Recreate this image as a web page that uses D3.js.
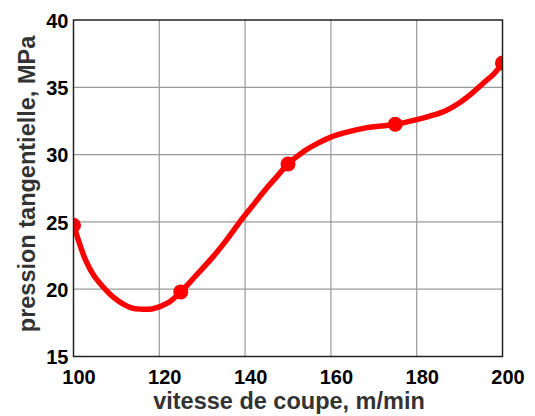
<!DOCTYPE html>
<html>
<head>
<meta charset="utf-8">
<script src="https://cdn.jsdelivr.net/npm/d3@7"></script>
<style>
  html, body { margin: 0; padding: 0; background: #fff; }
  svg { display: block; }
</style>
</head>
<body>
<svg id="chart" width="535" height="416"></svg>
<script>
// Measured points (markers)
const speeds = [100, 125, 150, 175, 200];
const pressures = [24.75, 19.8, 29.3, 32.25, 36.8];

// Fitted curve
const curveX = [100, 101.6, 102.8, 104.7, 107.8, 109.5, 111.7, 113.5, 115.5, 118.5, 122, 125, 128.5, 132.5, 136, 139, 142, 145, 147.5, 150, 153.5, 157, 160, 163.5, 167.5, 171, 175, 180, 184, 187, 190, 192.5, 195.5, 198, 200];
const curveY = [24.8, 23.2, 22.18, 21.04, 19.86, 19.35, 18.87, 18.62, 18.52, 18.55, 18.98, 19.8, 21.0, 22.4, 23.8, 25.1, 26.3, 27.5, 28.4, 29.3, 30.2, 30.85, 31.3, 31.65, 31.95, 32.1, 32.25, 32.6, 32.95, 33.3, 33.85, 34.45, 35.3, 36.0, 36.8];

const xTicks = [100, 120, 140, 160, 180, 200];
const yTicks = [15, 20, 25, 30, 35, 40];
const xTitle = "vitesse de coupe, m/min";
const yTitle = "pression tangentielle, MPa";

const svg = d3.select("#chart");
const m = { left: 73.5, top: 20, right: 502.5, bottom: 356.5 };
const x = d3.scaleLinear().domain([100, 200]).range([m.left, m.right]);
const y = d3.scaleLinear().domain([15, 40]).range([m.bottom, m.top]);

// grid
const grid = svg.append("g");
grid.selectAll(".vg").data(xTicks.slice(1, -1)).enter().append("line")
  .attr("x1", d => x(d)).attr("x2", d => x(d))
  .attr("y1", m.top).attr("y2", m.bottom)
  .attr("stroke", "#9a9a9a").attr("stroke-width", 1.2);
grid.selectAll(".hg").data(yTicks.slice(1, -1)).enter().append("line")
  .attr("x1", m.left).attr("x2", m.right)
  .attr("y1", d => y(d)).attr("y2", d => y(d))
  .attr("stroke", "#9a9a9a").attr("stroke-width", 1.2);

// clip
svg.append("clipPath").attr("id", "clip").append("rect")
  .attr("x", m.left).attr("y", m.top)
  .attr("width", m.right - m.left).attr("height", m.bottom - m.top);

const plot = svg.append("g").attr("clip-path", "url(#clip)");
const line = d3.line().x(d => x(d[0])).y(d => y(d[1])).curve(d3.curveCatmullRom.alpha(0.5));
plot.append("path")
  .datum(curveX.map((v, i) => [v, curveY[i]]))
  .attr("d", line)
  .attr("fill", "none").attr("stroke", "#ff0000").attr("stroke-width", 5.5)
  .attr("stroke-linejoin", "round").attr("stroke-linecap", "round");
plot.selectAll("circle").data(speeds.map((v, i) => [v, pressures[i]])).enter().append("circle")
  .attr("cx", d => x(d[0])).attr("cy", d => y(d[1])).attr("r", 7.5)
  .attr("fill", "#ff0000");

// frame
svg.append("rect")
  .attr("x", m.left).attr("y", m.top)
  .attr("width", m.right - m.left).attr("height", m.bottom - m.top)
  .attr("fill", "none").attr("stroke", "#222").attr("stroke-width", 1.5);

// axes
const xAxis = d3.axisBottom(x).tickValues(xTicks).tickSize(0).tickPadding(0).tickFormat(d3.format("d"));
const gx = svg.append("g").attr("transform", `translate(5,${m.bottom})`).call(xAxis);
gx.select(".domain").remove();
gx.selectAll("text").attr("y", 27).attr("dy", 0)
  .attr("font-family", "Liberation Sans, Arial, sans-serif").attr("font-weight", "bold")
  .attr("font-size", 20).attr("fill", "#000");

const yAxis = d3.axisLeft(y).tickValues(yTicks).tickSize(0).tickPadding(0).tickFormat(d3.format("d"));
const gy = svg.append("g").attr("transform", `translate(${m.left - 5},0)`).call(yAxis);
gy.select(".domain").remove();
gy.selectAll("text").attr("dy", "0.36em")
  .attr("font-family", "Liberation Sans, Arial, sans-serif").attr("font-weight", "bold")
  .attr("font-size", 20).attr("fill", "#000");

svg.append("text")
  .attr("x", 289).attr("y", 409)
  .attr("text-anchor", "middle")
  .attr("font-family", "Liberation Sans, Arial, sans-serif").attr("font-weight", "bold")
  .attr("font-size", 23.5).attr("fill", "#333")
  .text(xTitle);

svg.append("text")
  .attr("transform", `translate(35,184) rotate(-90)`)
  .attr("text-anchor", "middle")
  .attr("font-family", "Liberation Sans, Arial, sans-serif").attr("font-weight", "bold")
  .attr("font-size", 23.5).attr("fill", "#333")
  .text(yTitle);
</script>
</body>
</html>
